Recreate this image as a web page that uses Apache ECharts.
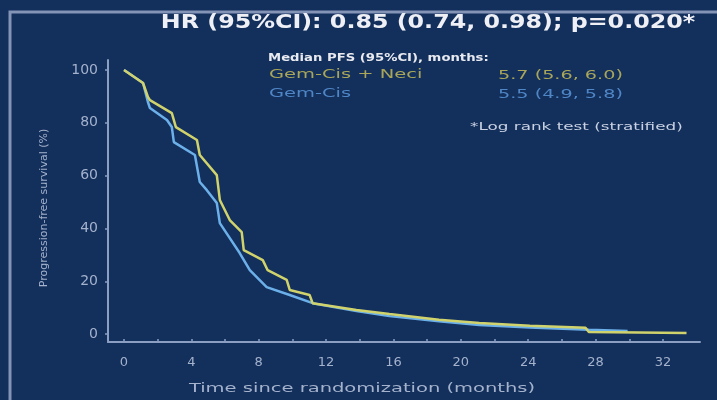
<!DOCTYPE html>
<html><head><meta charset="utf-8">
<script src="https://cdn.jsdelivr.net/npm/echarts@6/dist/echarts.min.js"></script>
<style>html,body{margin:0;padding:0;background:#132f5c}#c{width:717px;height:400px}</style>
</head><body><div id="c"></div>
<script>
// Kaplan-Meier PFS curves (time in months, survival %)
const neciTime  = [0,1.13,1.42,1.54,2.84,3.08,4.33,4.5,5.51,5.69,6.28,6.99,7.11,8.24,8.53,9.66,9.84,11.02,11.2,13.8,15.76,18.7,21.1,24.1,27.4,27.6,33.4];
const neciSurv  = [100,95.1,89.8,88.6,83.7,78.4,73.5,67.8,60.2,50.8,43.2,38.6,31.8,28,24.2,20.5,16.7,14.8,11.7,9.1,7.6,5.4,4.2,3.2,2.4,0.8,0.4];
const gcTime    = [0,1.13,1.42,1.54,2.55,2.84,2.96,4.21,4.5,4.92,5.51,5.69,6.87,7.47,8.47,9.84,11.2,13.8,15.76,18.7,21.1,24.1,27.6,29.9];
const gcSurv    = [100,95.1,87.9,85.6,81.1,78.4,72.7,67.8,57.6,54.5,49.6,42,30.7,24.2,17.8,14.8,11.7,8.7,6.8,4.9,3.4,2.5,1.6,1.2];
const xTicks    = [0,2,4,6,8,10,12,14,16,18,20,22,24,26,28,30,32];
const xLabels   = [0,4,8,12,16,20,24,28,32];
const yLabels   = [0,20,40,60,80,100];
const seriesNames = ['Gem-Cis + Neci','Gem-Cis'];
const medians   = ['5.7 (5.6, 6.0)','5.5 (4.9, 5.8)'];

const pair = (t,s) => t.map((v,i)=>[v,s[i]]);
const chart = echarts.init(document.getElementById('c'), null, {renderer:'canvas'});
const F = 'DejaVu Sans';
const txt = (x,y,text,font,fill,sx,align) => ({type:'text',x:x,y:y,scaleX:sx||1,
  style:{text:text,fill:fill,font:font,align:align||'left',verticalAlign:'middle'}});
chart.setOption({
  backgroundColor:'#132f5c',
  animation:false,
  grid:{left:108,right:17,top:60,bottom:58},
  xAxis:{type:'value',min:-0.95,max:34.2,
    axisLine:{onZero:false,lineStyle:{color:'#8a9fc2',width:2}},
    axisTick:{show:true,customValues:xTicks,length:3,inside:true,lineStyle:{color:'#8a9fc2',width:1.5}},
    axisLabel:{customValues:xLabels,color:'#a4b2cc',fontFamily:F,fontSize:13,margin:14},
    splitLine:{show:false}},
  yAxis:{type:'value',min:-3,max:103.8,
    axisLine:{show:true,onZero:false,lineStyle:{color:'#8a9fc2',width:2}},
    axisTick:{show:true,customValues:yLabels,length:3,lineStyle:{color:'#8a9fc2',width:1.5}},
    axisLabel:{customValues:yLabels,color:'#a4b2cc',fontFamily:F,fontSize:14,margin:10},
    splitLine:{show:false}},
  series:[
    {name:seriesNames[1],type:'line',data:pair(gcTime,gcSurv),symbol:'none',
      lineStyle:{color:'#6cb0ea',width:2.5},z:2},
    {name:seriesNames[0],type:'line',data:pair(neciTime,neciSurv),symbol:'none',
      lineStyle:{color:'#d0d26c',width:2.5},z:3}
  ],
  graphic:[
    {type:'rect',shape:{x:10,y:12,width:760,height:420},style:{fill:'none',stroke:'#8394b6',lineWidth:3},silent:true,z:-1},
    txt(428,23,'HR (95%CI): 0.85 (0.74, 0.98); p=0.020*','bold 19px "DejaVu Sans"','#eef0f6',1.25,'center'),
    txt(268,58,'Median PFS (95%CI), months:','bold 11px "DejaVu Sans"','#e8eaf0',1.2),
    txt(269,75,seriesNames[0],'12px "DejaVu Sans"','#a9a65a',1.62),
    txt(498,76,medians[0],'12px "DejaVu Sans"','#a9a65a',1.6),
    txt(269,94,seriesNames[1],'12px "DejaVu Sans"','#4f86c6',1.62),
    txt(498,95,medians[1],'12px "DejaVu Sans"','#4f86c6',1.6),
    txt(470,127,'*Log rank test (stratified)','10px "DejaVu Sans"','#c9d1e2',1.68),
    {type:'text',x:44,y:208,rotation:Math.PI/2,style:{text:'Progression-free survival (%)',fill:'#a4b2cc',font:'11px "DejaVu Sans"',align:'center',verticalAlign:'middle'}},
    txt(362,389,'Time since randomization (months)','13px "DejaVu Sans"','#a4b2cc',1.5,'center')
  ]
});
</script></body></html>
